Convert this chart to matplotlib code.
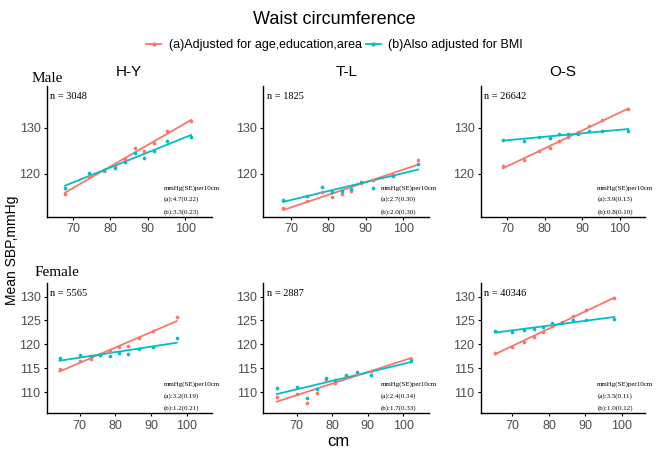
import numpy as np
import matplotlib
matplotlib.use("Agg")
import matplotlib.pyplot as plt
from matplotlib.lines import Line2D

RED = "#F8766D"
BLUE = "#00BFC4"

regions = ["H-Y", "T-L", "O-S"]
sexes = ["Male", "Female"]

# waist (cm) decile means and mean SBP for each panel
male_x = [
    [67.9, 74.2, 78.4, 81.3, 84.0, 86.5, 88.9, 91.7, 95.1, 101.6],
    [67.9, 74.4, 78.2, 80.9, 83.7, 86.1, 88.7, 91.8, 97.3, 104.0],
    [68.9, 74.4, 78.6, 81.5, 83.9, 86.3, 89.0, 91.8, 95.3, 102.2],
]
male_a = [
    [115.7, 119.6, 120.7, 121.5, 123.3, 125.5, 125.0, 126.8, 129.4, 131.5],
    [112.5, 114.1, 116.0, 115.0, 115.6, 116.2, 118.1, 118.6, 119.8, 122.9],
    [121.7, 122.9, 124.9, 125.6, 127.2, 127.9, 129.0, 130.4, 131.6, 134.1],
]
male_b = [
    [117.0, 120.2, 120.8, 121.2, 122.6, 124.5, 123.5, 124.9, 127.2, 128.0],
    [114.4, 115.1, 117.2, 116.0, 116.3, 116.7, 118.3, 117.0, 119.6, 122.2],
    [127.4, 127.2, 128.0, 127.8, 128.7, 128.6, 128.7, 129.2, 129.4, 129.4],
]
female_x = [
    [64.4, 70.0, 73.1, 75.8, 78.4, 81.0, 83.7, 86.7, 90.5, 97.2],
    [64.4, 70.0, 73.0, 75.8, 78.3, 80.8, 83.9, 87.0, 90.9, 102.3],
    [65.2, 70.0, 73.1, 75.9, 78.4, 80.8, 83.6, 86.5, 90.2, 97.9],
]
female_a = [
    [114.8, 116.6, 117.0, 117.8, 118.6, 119.4, 119.7, 121.4, 122.7, 125.7],
    [109.1, 109.6, 107.8, 109.9, 112.5, 112.0, 113.4, 113.8, 114.4, 117.0],
    [118.3, 119.5, 120.5, 121.6, 122.6, 123.8, 124.7, 125.9, 127.1, 129.6],
]
female_b = [
    [117.2, 117.8, 117.5, 117.7, 117.5, 118.2, 118.1, 119.1, 119.4, 121.4],
    [110.8, 111.0, 108.9, 110.6, 113.0, 112.5, 113.7, 114.2, 113.7, 116.5],
    [122.8, 122.6, 123.0, 123.3, 123.6, 124.4, 124.4, 125.0, 125.1, 125.4],
]
male_n = ["3048", "1825", "26642"]
female_n = ["5565", "2887", "40346"]
male_slopes = [("4.7(0.22)", "3.3(0.23)"), ("2.7(0.30)", "2.0(0.30)"), ("3.9(0.13)", "0.8(0.10)")]
female_slopes = [("3.2(0.19)", "1.2(0.21)"), ("2.4(0.34)", "1.7(0.33)"), ("3.5(0.11)", "1.0(0.12)")]

W, H = 669, 450
fig = plt.figure(figsize=(W / 100, H / 100), dpi=100)

col_px = [(46.7, 211.7), (263.3, 429.0), (480.7, 645.0)]
row_px = [(86.4, 217.0), (282.7, 413.3)]
row_ylim = [(110.6, 139.0), (105.6, 132.9)]
xlims = [[(63.0, 107.1), (62.6, 106.9), (63.0, 106.7)],
         [(60.8, 107.0), (60.6, 107.3), (61.3, 106.3)]]
row_yticks = [[120, 130], [110, 115, 120, 125, 130]]

serif = "Liberation Serif"
sans = "Liberation Sans"

rows = [(male_x, male_a, male_b, male_n, male_slopes),
        (female_x, female_a, female_b, female_n, female_slopes)]

for r, (xs, ya, yb, ns, slopes) in enumerate(rows):
    top, bot = row_px[r]
    for c in range(3):
        l, rr = col_px[c]
        ax = fig.add_axes([l / W, 1 - bot / H, (rr - l) / W, (bot - top) / H])
        x = np.array(xs[c])
        for y, col in ((ya[c], RED), (yb[c], BLUE)):
            y = np.array(y)
            k, b0 = np.polyfit(x, y, 1)
            xx = np.array([x.min(), x.max()])
            ax.plot(xx, k * xx + b0, color=col, lw=1.3)
            ax.scatter(x, y, color=col, s=7, zorder=3, linewidths=0)
        ax.set_xlim(*xlims[r][c])
        ax.set_ylim(*row_ylim[r])
        ax.set_xticks([70, 80, 90, 100])
        ax.set_yticks(row_yticks[r])
        for s in ("top", "right"):
            ax.spines[s].set_visible(False)
        for s in ("left", "bottom"):
            ax.spines[s].set_linewidth(1.0)
        ax.tick_params(labelsize=9, labelcolor="#4D4D4D", length=2.5, width=0.8,
                       pad=2)
        for t in ax.get_xticklabels() + ax.get_yticklabels():
            t.set_family(sans)
        ax.text(0.02, 0.92, "n = " + ns[c], transform=ax.transAxes, family=serif,
                fontsize=7.5, va="center", ha="left")
        ax.text(0.71, 0.222, "mmHg(SE)per10cm", transform=ax.transAxes,
                family=serif, fontsize=5, va="center")
        ax.text(0.71, 0.135, "(a):" + slopes[c][0], transform=ax.transAxes,
                family=serif, fontsize=5, va="center")
        ax.text(0.71, 0.041, "(b):" + slopes[c][1], transform=ax.transAxes,
                family=serif, fontsize=5, va="center")
        if r == 0:
            fig.text((l + rr) / 2 / W, 1 - 72 / H, regions[c], family=sans,
                     fontsize=11, ha="center", va="center")

fig.text(32 / W, 1 - 78 / H, "Male", family=serif, fontsize=11, va="center")
fig.text(35 / W, 1 - 273 / H, "Female", family=serif, fontsize=11, va="center")

fig.text(0.5, 1 - 20 / H, "Waist circumference", family=sans, fontsize=13,
         ha="center", va="center")
handles = [Line2D([], [], color=RED, marker="o", markersize=2, lw=1.3),
           Line2D([], [], color=BLUE, marker="o", markersize=2, lw=1.3)]
fig.legend(handles, ["(a)Adjusted for age,education,area", "(b)Also adjusted for BMI"],
           loc="center", bbox_to_anchor=(0.5, 1 - 45 / H), ncol=2, frameon=False,
           prop={"family": sans, "size": 9}, handlelength=1.2, handletextpad=0.6,
           columnspacing=0.3)

fig.text(12 / W, 1 - 250 / H, "Mean SBP,mmHg", family=sans, fontsize=10,
         rotation=90, ha="center", va="center")
fig.text(338 / W, 1 - 441 / H, "cm", family=sans, fontsize=12, ha="center",
         va="center")

fig.savefig("out.png", dpi=100)
